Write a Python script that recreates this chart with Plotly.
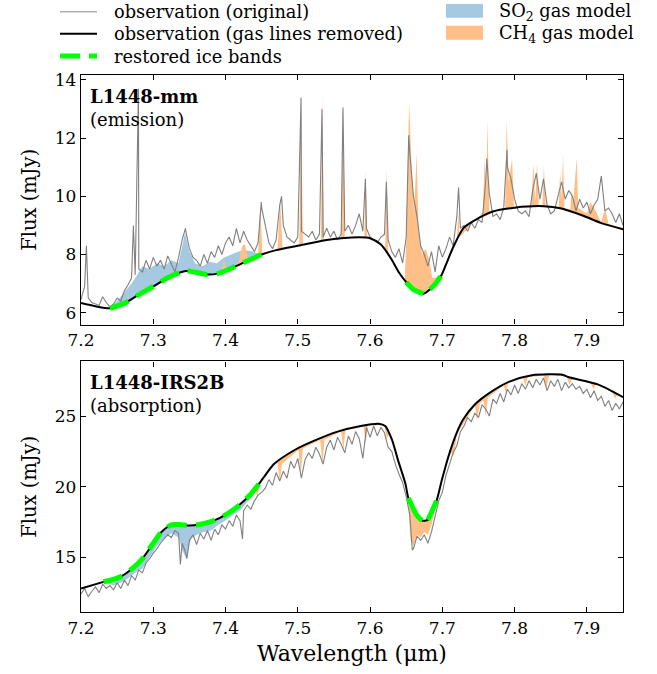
import numpy as np
import plotly.graph_objects as go

# ---------------- DATA ----------------
# Observation grid (wavelength, µm) with 0.005 µm spacing
grid_wl = np.round(7.2 + 0.005 * np.arange(151), 4)

# Top panel (L1448-mm) observed flux on grid
top_obs = [
    6.45, 6.9, 6.5, 6.35, 6.3, 6.25, 6.55, 6.35, 6.2, 6.3,
    6.5, 6.4, 6.75, 6.95, 7.2, 7.3, 7.5, 7.4, 7.8, 7.5,
    7.9, 7.6, 7.8, 7.5, 7.95, 7.7, 7.4, 7.9, 8.5, 8.8,
    8.2, 7.9, 7.8, 7.6, 8.0, 7.7, 8.1, 7.9, 8.3, 8.0,
    8.4, 8.6, 8.3, 8.9, 8.4, 8.8, 8.5, 8.3, 8.1, 8.4,
    9.6, 9.0, 8.4, 8.2, 8.5, 9.7, 9.0, 8.6, 8.5, 8.4,
    8.6, 8.8, 8.7, 8.6, 8.8, 8.5, 8.7, 8.6, 8.9, 8.6,
    8.8, 8.5, 8.7, 8.8, 9.0, 8.7, 9.0, 9.4, 8.8, 8.9,
    8.6, 8.5, 8.4, 8.6, 8.7, 8.5, 8.1, 7.9, 8.2, 7.7,
    8.6, 11.5, 10.0, 9.3, 8.3, 8.0, 7.6, 8.1, 7.4, 8.3,
    7.9, 8.2, 8.6, 8.3, 9.3, 8.9, 9.0, 8.8, 9.1, 8.9,
    9.2, 9.1, 10.5, 10.1, 9.3, 9.4, 9.2, 9.6, 11.0, 10.6,
    9.9, 9.5, 9.4, 9.5, 9.3, 10.2, 10.8, 9.9, 10.6, 9.7,
    9.4, 9.5, 10.0, 10.5, 9.9, 10.2, 10.0, 9.5, 9.9, 9.6,
    9.8, 9.4, 9.7, 9.9, 10.7, 9.5, 9.6, 9.4, 9.1, 9.4,
    9.0,
]
# Narrow emission spikes in the top panel (off-grid)
top_spike_wl = [7.2075, 7.2725, 7.2795, 7.3445, 7.4495, 7.4775, 7.5045, 7.5335,
                7.5625, 7.5935, 7.6225, 7.6535, 7.7225, 7.7615, 7.7895]
top_spike_val = [8.3, 9.0, 13.7, 8.9, 9.8, 10.0, 13.4, 13.0,
                 13.05, 10.6, 10.5, 12.1, 10.3, 11.3, 11.6]

# Top panel continuum (gas lines removed)
top_cont_wl = [7.200, 7.220, 7.240, 7.260, 7.280, 7.300, 7.320, 7.345, 7.360, 7.375,
               7.390, 7.410, 7.430, 7.450, 7.470, 7.500, 7.540, 7.585, 7.600, 7.615,
               7.630, 7.640, 7.650, 7.660, 7.674, 7.683, 7.690, 7.698, 7.705, 7.715,
               7.730, 7.750, 7.770, 7.800, 7.840, 7.865, 7.895, 7.920, 7.950]
top_cont = [6.33, 6.22, 6.15, 6.32, 6.62, 6.9, 7.2, 7.43, 7.38, 7.31,
            7.35, 7.55, 7.78, 8.0, 8.15, 8.3, 8.5, 8.59, 8.56, 8.34,
            7.82, 7.38, 7.05, 6.8, 6.65, 6.8, 6.98, 7.25, 7.65, 8.25,
            8.93, 9.25, 9.48, 9.61, 9.66, 9.58, 9.33, 9.08, 8.87]

# Top panel SO2 gas model (continuum + SO2)
top_so2_wl = [7.240, 7.250, 7.260, 7.270, 7.278, 7.285, 7.295, 7.305, 7.315, 7.325,
              7.335, 7.340, 7.344, 7.350, 7.358, 7.368, 7.378, 7.388, 7.398, 7.408,
              7.418, 7.428, 7.438, 7.450]
top_so2 = [6.15, 6.4, 6.7, 7.0, 7.3, 7.6, 7.5, 7.7, 7.6, 7.8,
           7.7, 8.3, 8.75, 8.1, 7.7, 7.6, 7.75, 7.7, 7.9, 8.0,
           8.1, 8.15, 8.1, 8.0]

# Top panel CH4 gas model (continuum + CH4)
top_ch4_wl = [7.390, 7.395, 7.398, 7.401, 7.418, 7.423, 7.427, 7.431, 7.445, 7.448,
              7.451, 7.472, 7.4755, 7.479, 7.502, 7.5045, 7.507, 7.532, 7.534, 7.536,
              7.560, 7.5625, 7.565, 7.592, 7.594, 7.596, 7.621, 7.623, 7.625, 7.648,
              7.650, 7.654, 7.6575, 7.661, 7.6645, 7.667, 7.672, 7.677, 7.682, 7.686,
              7.690, 7.700, 7.720, 7.722, 7.724, 7.756, 7.7585, 7.7605, 7.7625, 7.765,
              7.787, 7.789, 7.792, 7.7965, 7.799, 7.823, 7.826, 7.8285, 7.831, 7.8335,
              7.8385, 7.8405, 7.843, 7.861, 7.863, 7.865, 7.867, 7.869, 7.877, 7.879,
              7.881, 7.886, 7.888, 7.900, 7.905, 7.910, 7.920, 7.925, 7.930, 7.950]
top_ch4 = [7.35, 7.45, 7.85, 7.45, 7.7, 8.3, 8.35, 7.8, 7.96, 9.7,
           8.05, 8.17, 9.9, 8.2, 8.32, 13.45, 8.33, 8.47, 13.5, 8.48,
           8.55, 12.9, 8.56, 8.6, 10.9, 8.6, 8.25, 11.0, 8.1, 7.1,
           8.5, 13.26, 11.0, 9.5, 11.5, 8.8, 8.0, 8.2, 7.8, 7.2,
           7.2, 7.35, 8.5, 9.5, 8.6, 9.45, 11.3, 10.0, 12.6, 9.45,
           9.6, 12.63, 10.5, 11.3, 9.65, 9.66, 11.1, 9.8, 11.15, 9.7,
           9.7, 11.05, 9.7, 9.6, 10.87, 9.9, 11.44, 9.6, 9.55, 10.24,
           9.8, 11.32, 9.6, 9.4, 9.8, 9.6, 9.1, 9.6, 9.05, 8.9]

# Bottom panel (L1448-IRS2B) observed flux on grid
bot_obs = [
    12.4, 12.8, 12.2, 12.6, 12.9, 12.5, 13.1, 12.8, 13.0, 12.7,
    13.2, 12.8, 13.4, 13.0, 13.7, 13.4, 14.1, 13.9, 14.6, 14.9,
    15.3, 15.6, 16.0, 16.3, 16.6, 16.4, 16.9, 16.7, 16.0, 15.3,
    16.2, 16.6, 15.9, 16.7, 16.3, 16.9, 16.2, 17.0, 16.6, 17.3,
    17.0, 17.6, 17.2, 18.0, 17.6, 18.3, 18.7, 18.4, 19.0, 19.4,
    19.6, 19.9, 20.5, 20.1, 21.0, 20.4, 21.1, 20.6, 21.8, 21.3,
    22.0, 20.6, 21.9, 22.4, 22.0, 22.8, 22.3, 21.6, 22.8, 23.3,
    22.6, 23.5, 23.0, 22.4, 23.6, 23.0, 23.9, 23.4, 22.0, 24.2,
    23.5, 24.3, 23.6, 24.2, 23.8, 22.8, 22.5, 21.6, 20.9, 20.3,
    19.3, 18.0, 15.6, 16.5, 16.2, 16.6, 16.0, 16.8, 17.9, 19.0,
    19.6, 20.8, 21.6, 22.4, 22.9, 23.9, 24.3, 24.9, 24.6, 25.2,
    24.9, 25.8, 25.5, 25.0, 26.2, 25.9, 26.6, 26.0, 26.9, 26.5,
    27.2, 26.6, 27.3, 26.9, 27.5, 27.0, 27.6, 27.2, 27.7, 26.8,
    27.5, 27.1, 27.6, 26.8, 27.4, 27.0, 27.3, 26.9, 27.1, 26.6,
    26.9, 26.3, 26.8, 26.1, 26.4, 25.7, 26.1, 25.4, 25.9, 25.5,
    26.0,
]
bot_spike_wl = [7.3375, 7.3465, 7.4235, 7.6585]
bot_spike_val = [14.5, 14.9, 16.3, 15.5]

# Bottom panel continuum
bot_cont_wl = [7.200, 7.231, 7.254, 7.268, 7.284, 7.298, 7.311, 7.325, 7.336, 7.350,
               7.364, 7.382, 7.400, 7.419, 7.437, 7.452, 7.467, 7.495, 7.522, 7.555,
               7.587, 7.612, 7.621, 7.630, 7.639, 7.649, 7.653, 7.665, 7.672, 7.680,
               7.685, 7.692, 7.699, 7.708, 7.720, 7.729, 7.745, 7.769, 7.792, 7.824,
               7.866, 7.875, 7.916, 7.950]
bot_cont = [12.79, 13.26, 13.6, 14.08, 14.84, 15.85, 16.78, 17.3, 17.32, 17.25,
            17.32, 17.56, 18.0, 18.7, 19.6, 20.6, 21.6, 22.58, 23.24, 23.9,
            24.3, 24.46, 24.3, 23.36, 21.83, 20.19, 19.2, 17.96, 17.6, 17.65,
            18.19, 19.0, 20.4, 22.07, 23.83, 24.77, 25.82, 26.76, 27.42, 27.89,
            27.93, 27.75, 27.23, 26.34]

# Bottom panel SO2 gas model (continuum - SO2 absorption)
bot_so2_wl = [7.231, 7.245, 7.255, 7.265, 7.275, 7.285, 7.295, 7.305, 7.315, 7.325,
              7.335, 7.340, 7.346, 7.352, 7.360, 7.370, 7.380, 7.390, 7.400, 7.410,
              7.420, 7.430, 7.440, 7.452]
bot_so2 = [13.26, 13.0, 13.2, 13.5, 13.9, 14.2, 15.0, 15.8, 16.3, 16.7,
           16.4, 15.5, 14.9, 16.3, 16.6, 16.8, 16.9, 17.3, 17.6, 18.0,
           18.3, 18.9, 19.5, 20.6]

# Bottom panel CH4 gas model (continuum - CH4 absorption)
bot_ch4_wl = [7.437, 7.441, 7.444, 7.447, 7.468, 7.472, 7.475, 7.478, 7.501, 7.504,
              7.507, 7.531, 7.534, 7.537, 7.560, 7.563, 7.566, 7.591, 7.594, 7.597,
              7.620, 7.623, 7.627, 7.645, 7.652, 7.656, 7.660, 7.665, 7.670, 7.675,
              7.680, 7.685, 7.690, 7.695, 7.702, 7.712, 7.716, 7.720, 7.745, 7.748,
              7.752, 7.757, 7.760, 7.763, 7.785, 7.788, 7.791, 7.812, 7.815, 7.818,
              7.840, 7.844, 7.848, 7.872, 7.876, 7.880, 7.905, 7.909, 7.913, 7.935,
              7.939, 7.943, 7.950]
bot_ch4 = [19.6, 19.9, 19.2, 20.2, 21.55, 21.7, 20.3, 21.6, 22.6, 20.9,
           22.7, 23.3, 21.6, 23.35, 23.9, 22.6, 24.0, 24.25, 23.0, 24.35,
           24.35, 23.4, 23.8, 20.9, 19.5, 16.2, 15.8, 16.6, 16.4, 16.8,
           16.6, 17.3, 18.4, 19.8, 21.0, 22.4, 22.2, 23.7, 25.75, 24.7,
           25.9, 26.1, 25.0, 26.3, 27.2, 26.6, 27.35, 27.7, 27.1, 27.75,
           27.88, 27.0, 27.9, 27.8, 27.2, 27.7, 27.4, 26.9, 27.3, 26.8,
           26.2, 26.6, 26.3]

# Restored ice band ranges (start, end, dashed) along the continuum
top_ice = [(7.240, 7.450, True), (7.650, 7.674, False), (7.683, 7.698, False)]
bot_ice = [(7.231, 7.452, True), (7.653, 7.672, False), (7.680, 7.692, False)]

x_ticks = [7.2, 7.3, 7.4, 7.5, 7.6, 7.7, 7.8, 7.9]

# ---------------- STYLE ----------------
FONT = "DejaVu Serif"
C_SO2 = "#a5c9e1"
C_CH4 = "#ffbf86"
C_OBS = "#808080"
C_ICE = "#00ff00"
SMOOTH = 0.7

W, H = 657, 674
ML, MR, MT, MB = 81, 34, 75, 59
PW, PH = W - ML - MR, H - MT - MB


def pxx(x):
    return (x - ML) / PW


def pxy(y):
    return (H - MB - y) / PH


fig = go.Figure()


def merged(grid, vals, sw, sv):
    wl = np.concatenate([grid, np.array(sw)])
    fl = np.concatenate([np.array(vals), np.array(sv)])
    o = np.argsort(wl, kind="stable")
    return wl[o], fl[o]


def seg(cw, cf, a, b):
    cw = np.array(cw)
    cf = np.array(cf)
    m = (cw >= a - 1e-9) & (cw <= b + 1e-9)
    return cw[m], cf[m]


def add_panel(xa, ya, obs, sw, sv, cw, cf, so2w, so2, ch4w, ch4, ice):
    # SO2 fill
    a, b = seg(cw, cf, so2w[0], so2w[-1])
    fig.add_trace(go.Scatter(x=a, y=b, mode="lines", line=dict(width=0, shape="spline", smoothing=SMOOTH),
                             xaxis=xa, yaxis=ya, showlegend=False, hoverinfo="skip"))
    fig.add_trace(go.Scatter(x=so2w, y=so2, mode="lines", line=dict(width=0), fill="tonexty",
                             fillcolor=C_SO2, xaxis=xa, yaxis=ya, showlegend=False, hoverinfo="skip"))
    # CH4 fill
    a, b = seg(cw, cf, ch4w[0], ch4w[-1])
    fig.add_trace(go.Scatter(x=a, y=b, mode="lines", line=dict(width=0, shape="spline", smoothing=SMOOTH),
                             xaxis=xa, yaxis=ya, showlegend=False, hoverinfo="skip"))
    fig.add_trace(go.Scatter(x=ch4w, y=ch4, mode="lines", line=dict(width=0), fill="tonexty",
                             fillcolor=C_CH4, xaxis=xa, yaxis=ya, showlegend=False, hoverinfo="skip"))
    # observation
    ow, of = merged(grid_wl, obs, sw, sv)
    fig.add_trace(go.Scatter(x=ow, y=of, mode="lines", line=dict(color=C_OBS, width=1.1),
                             xaxis=xa, yaxis=ya, showlegend=False))
    # continuum
    fig.add_trace(go.Scatter(x=cw, y=cf, mode="lines",
                             line=dict(color="black", width=2, shape="spline", smoothing=SMOOTH),
                             xaxis=xa, yaxis=ya, showlegend=False))
    # ice bands
    for s, e, dashed in ice:
        a, b = seg(cw, cf, s, e)
        fig.add_trace(go.Scatter(x=a, y=b, mode="lines",
                                 line=dict(color=C_ICE, width=5, shape="spline", smoothing=SMOOTH,
                                           dash="20px,9px" if dashed else "solid"),
                                 xaxis=xa, yaxis=ya, showlegend=False))


add_panel("x", "y", top_obs, top_spike_wl, top_spike_val, top_cont_wl, top_cont,
          top_so2_wl, top_so2, top_ch4_wl, top_ch4, top_ice)
add_panel("x2", "y2", bot_obs, bot_spike_wl, bot_spike_val, bot_cont_wl, bot_cont,
          bot_so2_wl, bot_so2, bot_ch4_wl, bot_ch4, bot_ice)

tickfont = dict(family=FONT, size=17, color="black")
axcommon = dict(showline=True, linecolor="black", linewidth=1.3, mirror="ticks", ticks="inside",
                ticklen=5, tickwidth=1, tickcolor="black", showgrid=False, zeroline=False,
                tickfont=tickfont)

top_dom = [1 - 251 / PH, 1.0]
bot_dom = [0.0, 252 / PH]

fig.update_layout(
    width=W, height=H,
    margin=dict(l=ML, r=MR, t=MT, b=MB),
    paper_bgcolor="white", plot_bgcolor="white",
    font=dict(family=FONT, color="black"),
    xaxis=dict(domain=[0, 1], anchor="y", range=[7.2, 7.95], tickvals=x_ticks,
               ticktext=[f"{v:.1f}" for v in x_ticks], **axcommon),
    yaxis=dict(domain=top_dom, anchor="x", range=[5.59, 14.17], tickvals=[6, 8, 10, 12, 14],
               title=dict(text="Flux (mJy)", font=dict(family=FONT, size=19.5), standoff=12), **axcommon),
    xaxis2=dict(domain=[0, 1], anchor="y2", range=[7.2, 7.95], tickvals=x_ticks,
                ticktext=[f"{v:.1f}" for v in x_ticks],
                title=dict(text="Wavelength (μm)", font=dict(family=FONT, size=22), standoff=9), **axcommon),
    yaxis2=dict(domain=bot_dom, anchor="x2", range=[11.13, 28.87], tickvals=[15, 20, 25],
                title=dict(text="Flux (mJy)", font=dict(family=FONT, size=19.5), standoff=12), **axcommon),
)

# Panel labels
fig.add_annotation(xref="x domain", yref="y domain", x=0.012, y=0.965, xanchor="left", yanchor="top",
                   text="<b>L1448-mm</b><br>(emission)", showarrow=False, align="left",
                   font=dict(family=FONT, size=18, color="black"))
fig.add_annotation(xref="x2 domain", yref="y2 domain", x=0.012, y=0.965, xanchor="left", yanchor="top",
                   text="<b>L1448-IRS2B</b><br>(absorption)", showarrow=False, align="left",
                   font=dict(family=FONT, size=18, color="black"))

# Legend (drawn manually above the panels)
leg_font = dict(family=FONT, size=17.8, color="black")
rows = [11.5, 33.5, 56]
fig.add_shape(type="line", xref="paper", yref="paper", x0=pxx(60), x1=pxx(97), y0=pxy(rows[0]), y1=pxy(rows[0]),
              line=dict(color="#b0b0b0", width=1.5))
fig.add_shape(type="line", xref="paper", yref="paper", x0=pxx(60), x1=pxx(97), y0=pxy(rows[1]), y1=pxy(rows[1]),
              line=dict(color="black", width=2))
fig.add_shape(type="line", xref="paper", yref="paper", x0=pxx(60), x1=pxx(97), y0=pxy(rows[2]), y1=pxy(rows[2]),
              line=dict(color=C_ICE, width=5, dash="20px,9px"))
fig.add_shape(type="rect", xref="paper", yref="paper", x0=pxx(446), x1=pxx(483), y0=pxy(rows[0] - 8),
              y1=pxy(rows[0] + 6), line=dict(width=0), fillcolor=C_SO2)
fig.add_shape(type="rect", xref="paper", yref="paper", x0=pxx(446), x1=pxx(483), y0=pxy(rows[1] - 8),
              y1=pxy(rows[1] + 6), line=dict(width=0), fillcolor=C_CH4)
for txt, xx, yy in [("observation (original)", 112, rows[0]),
                    ("observation (gas lines removed)", 112, rows[1]),
                    ("restored ice bands", 112, rows[2]),
                    ("SO<sub>2</sub> gas model", 497, rows[0]),
                    ("CH<sub>4</sub> gas model", 497, rows[1])]:
    fig.add_annotation(xref="paper", yref="paper", x=pxx(xx), y=pxy(yy), xanchor="left", yanchor="middle",
                       text=txt, showarrow=False, font=leg_font)

fig.write_html("out.html")
